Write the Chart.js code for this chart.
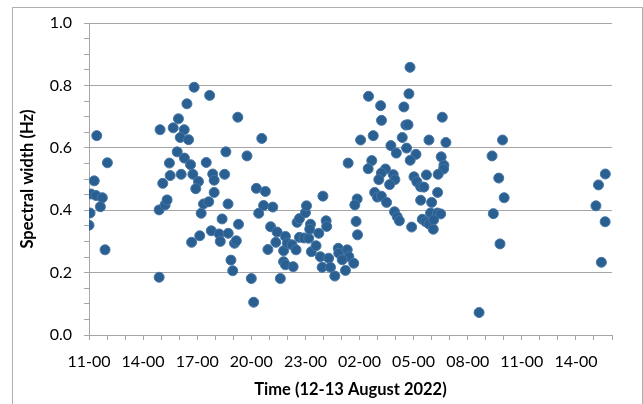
<!DOCTYPE html>
<html>
<head>
<meta charset="utf-8">
<title>Spectral width</title>
<script src="https://cdn.jsdelivr.net/npm/chart.js@4.4.1/dist/chart.umd.min.js"></script>
<style>
  html, body { margin: 0; padding: 0; background: #fff; }
  #wrap { position: relative; width: 643px; height: 404px; overflow: hidden; }
  #frame { position: absolute; left: 12px; top: 7px; width: 631px; height: 420px;
           border: 1px solid #b0b0b0; box-sizing: border-box; }
  canvas { position: absolute; left: 0; top: 0; }
</style>
</head>
<body>
<div id="wrap">
  <div id="frame"></div>
  <canvas id="widthChart" width="643" height="404"></canvas>
</div>
<script>
// time in hours after 11-00 on 12 August
const hours = [
  0.00, 0.06, 0.29, 0.11, 0.39, 0.74, 0.63, 0.43, 1.02, 0.89,
  3.89, 3.94, 3.89, 4.22, 4.33, 4.09, 4.50, 4.46, 4.89, 5.11,
  4.67, 4.96, 5.28, 5.06, 5.52, 5.43, 5.83, 5.29, 5.63, 5.76,
  6.07, 5.92, 6.35, 6.64, 6.22, 6.14, 5.69, 6.69, 6.50, 6.86,
  6.94, 7.52, 6.94, 7.59, 7.71, 7.38, 8.29, 6.78, 7.22, 7.72,
  7.28, 8.07, 8.17, 7.87, 7.97, 8.25, 8.76, 9.58, 9.28, 9.78,
  9.68, 10.19, 9.41, 9.00, 9.13, 10.61, 10.07, 10.43, 10.36, 9.92,
  10.89, 10.79, 11.00, 11.26, 11.48, 10.79, 10.89, 11.32, 11.67, 11.92,
  12.18, 11.54, 11.67, 12.00, 12.06, 12.28, 12.24, 12.33,
  12.97, 13.15, 13.18, 12.74, 12.59, 12.83, 12.93, 13.29, 13.39, 13.63,
  13.82, 13.85, 14.32, 14.41, 14.04, 14.22, 14.68, 14.87, 14.74, 14.81, 14.89, 14.37,
  15.06, 15.76, 15.50, 16.17, 16.22, 15.68, 15.48, 16.44, 16.21, 16.07,
  16.87, 16.96, 16.67, 16.74, 17.04, 15.84, 15.99, 16.21, 16.50, 16.94,
  17.09, 17.21, 17.80, 17.74, 17.46, 17.57, 17.69, 17.37, 17.61, 18.13,
  17.81, 18.02, 18.18, 18.39, 18.57, 18.71, 18.39, 17.89, 18.85, 19.79,
  19.59, 19.53, 19.68, 19.66, 19.36, 19.33, 19.00, 18.94, 19.32, 19.50,
  18.48, 18.67, 18.85, 19.11, 19.09,
  21.63, 22.93, 22.35, 22.72, 23.02, 22.42, 22.79,
  28.63, 28.25, 28.11, 28.62, 28.41
];

// spectral width (Hz)
const widths = [
  0.352, 0.391, 0.494, 0.452, 0.447, 0.440, 0.411, 0.639, 0.552, 0.273,
  0.185, 0.658, 0.401, 0.417, 0.433, 0.486, 0.511, 0.551, 0.587, 0.515,
  0.664, 0.693, 0.658, 0.633, 0.626, 0.741, 0.794, 0.567, 0.546, 0.515,
  0.492, 0.469, 0.420, 0.427, 0.390, 0.318, 0.297, 0.768, 0.553, 0.516,
  0.496, 0.515, 0.457, 0.587, 0.420, 0.372, 0.355, 0.334, 0.324, 0.326,
  0.300, 0.294, 0.302, 0.240, 0.206, 0.698, 0.574, 0.630, 0.470, 0.460,
  0.415, 0.410, 0.390, 0.181, 0.105, 0.181, 0.347, 0.330, 0.297, 0.274,
  0.316, 0.270, 0.294, 0.289, 0.273, 0.235, 0.225, 0.219, 0.313, 0.311,
  0.310, 0.361, 0.373, 0.392, 0.414, 0.355, 0.339, 0.267,
  0.445, 0.366, 0.348, 0.326, 0.286, 0.251, 0.217, 0.246, 0.217, 0.189,
  0.278, 0.262, 0.273, 0.251, 0.241, 0.207, 0.230, 0.436, 0.417, 0.364, 0.321, 0.551,
  0.625, 0.639, 0.765, 0.735, 0.688, 0.559, 0.533, 0.532, 0.519, 0.498,
  0.514, 0.498, 0.482, 0.607, 0.583, 0.457, 0.442, 0.445, 0.425, 0.395,
  0.379, 0.366, 0.858, 0.773, 0.731, 0.673, 0.674, 0.633, 0.599, 0.579,
  0.560, 0.507, 0.491, 0.475, 0.474, 0.513, 0.432, 0.346, 0.625, 0.617,
  0.698, 0.571, 0.544, 0.532, 0.515, 0.457, 0.425, 0.391, 0.391, 0.388,
  0.371, 0.363, 0.356, 0.369, 0.339,
  0.072, 0.625, 0.574, 0.503, 0.440, 0.389, 0.292,
  0.516, 0.481, 0.414, 0.363, 0.233
];

const xTickHours = [0, 3, 6, 9, 12, 15, 18, 21, 24, 27];
const xTickLabels = ["11-00", "14-00", "17-00", "20-00", "23-00", "02-00", "05-00", "08-00", "11-00", "14-00"];
const yMajorTicks = [0, 0.2, 0.4, 0.6, 0.8, 1.0];

const axisGray = "#a6a6a6";

function majorY(v) {
  return yMajorTicks.find((t) => Math.abs(t - v) < 1e-6);
}

Chart.defaults.font.family = "Lato, 'Liberation Sans', sans-serif";
Chart.defaults.font.size = 16;
Chart.defaults.color = "#000";

const ctx = document.getElementById("widthChart").getContext("2d");
new Chart(ctx, {
  type: "scatter",
  data: {
    datasets: [
      {
        label: "Spectral width",
        data: hours.map((h, i) => ({ x: h, y: widths[i] })),
        backgroundColor: "#2a5f92",
        borderColor: "#4676a6",
        borderWidth: 1,
        pointRadius: 5,
      },
    ],
  },
  options: {
    responsive: false,
    animation: false,
    layout: { padding: { left: 14, right: 31, top: 23, bottom: 4 } },
    plugins: { legend: { display: false }, tooltip: { enabled: false } },
    scales: {
      x: {
        type: "linear",
        min: 0,
        max: 29,
        afterFit: (s) => { s.height = 65; },
        ticks: {
          stepSize: 1,
          autoSkip: false,
          maxRotation: 0,
          padding: 12,
          callback: (v) => {
            const i = xTickHours.indexOf(v);
            return i >= 0 ? xTickLabels[i] : "";
          },
        },
        grid: { drawOnChartArea: false, tickColor: axisGray, tickLength: 5 },
        border: { color: axisGray },
        title: {
          display: true,
          text: "Time (12-13 August 2022)",
          font: { weight: "bold", size: 16.5 },
          padding: { top: 0, bottom: 0 },
        },
      },
      y: {
        min: 0,
        max: 1,
        afterFit: (s) => { s.width = 75; },
        ticks: {
          stepSize: 0.05,
          autoSkip: false,
          padding: 12,
          callback: (v) => {
            const t = majorY(v);
            return t !== undefined ? t.toFixed(1) : "";
          },
        },
        grid: {
          color: (c) => (majorY(c.tick.value) !== undefined ? axisGray : "rgba(0,0,0,0)"),
          tickColor: axisGray,
          tickLength: 5,
        },
        border: { color: axisGray },
        title: {
          display: true,
          text: "Spectral width (Hz)",
          font: { weight: "bold", size: 16.5 },
          padding: { top: 4, bottom: 0 },
        },
      },
    },
  },
});
</script>
</body>
</html>
